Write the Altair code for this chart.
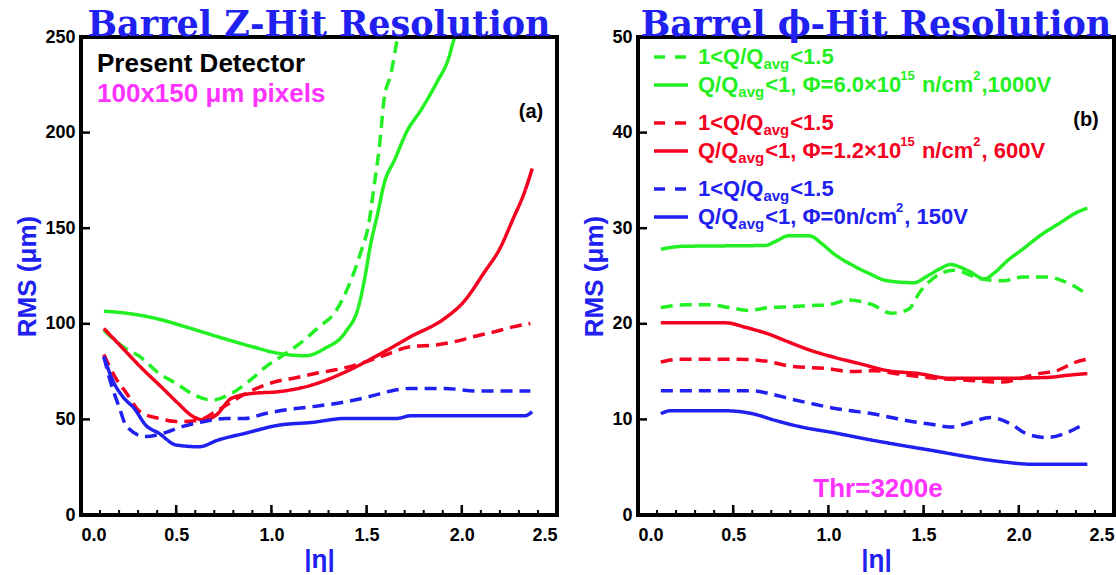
import altair as alt
import pandas as pd

# ---------------- data ----------------
x_tick_values = [0.0, 0.5, 1.0, 1.5, 2.0, 2.5]
x_minor_values = [0.0, 0.1, 0.2, 0.3, 0.4, 0.5, 0.6, 0.7, 0.8, 0.9, 1.0, 1.1, 1.2,
                  1.3, 1.4, 1.5, 1.6, 1.7, 1.8, 1.9, 2.0, 2.1, 2.2, 2.3, 2.4, 2.5]
z_y_ticks = [0, 50, 100, 150, 200, 250]
phi_y_ticks = [0, 10, 20, 30, 40, 50]

# Barrel Z-hit resolution (left panel)
z_green_solid_eta = [0.12, 0.25, 0.41, 0.55, 0.72, 0.90, 1.04, 1.18, 1.28, 1.39, 1.46, 1.49,
                     1.52, 1.56, 1.59, 1.65, 1.71, 1.79, 1.87, 1.93, 1.96, 2.00]
z_green_solid_rms = [106.6, 105.4, 102.4, 98.4, 93.2, 88.0, 84.5, 83.3, 87.1, 95.8, 109.8, 123.7,
                     141.0, 158.5, 172.5, 186.4, 200.3, 212.5, 226.5, 238.7, 249.1, 258.0]
z_green_dash_eta = [0.12, 0.22, 0.31, 0.41, 0.50, 0.58, 0.69, 0.79, 0.90, 0.97, 1.05, 1.15,
                    1.25, 1.33, 1.40, 1.47, 1.51, 1.54, 1.57, 1.59, 1.63, 1.66, 1.68]
z_green_dash_rms = [96.7, 88.0, 82.8, 74.0, 68.8, 63.6, 60.1, 63.6, 71.4, 77.5, 82.8, 89.7,
                    98.4, 105.4, 118.5, 137.6, 151.6, 172.5, 195.1, 216.0, 231.7, 248.3, 258.0]
z_red_solid_eta = [0.12, 0.22, 0.32, 0.43, 0.51, 0.59, 0.65, 0.71, 0.79, 0.90, 1.04, 1.21,
                   1.39, 1.56, 1.73, 1.91, 2.01, 2.12, 2.20, 2.27, 2.33, 2.37]
z_red_solid_rms = [97.6, 87.1, 76.7, 66.2, 58.4, 51.4, 49.7, 52.3, 61.0, 63.6, 64.5, 67.9,
                   74.9, 83.6, 93.2, 102.8, 111.5, 127.2, 139.4, 155.0, 169.0, 181.2]
z_red_dash_eta = [0.12, 0.18, 0.24, 0.31, 0.41, 0.52, 0.62, 0.72, 0.90, 1.02, 1.11, 1.23,
                  1.33, 1.44, 1.58, 1.73, 1.86, 1.96, 2.06, 2.17, 2.27, 2.36]
z_red_dash_rms = [84.0, 72.0, 63.6, 54.0, 50.5, 48.8, 49.7, 54.9, 65.3, 69.7, 71.4, 74.0,
                  75.8, 78.4, 83.0, 88.0, 88.9, 90.6, 93.2, 95.8, 98.4, 100.2]
z_blue_solid_eta = [0.12, 0.17, 0.22, 0.28, 0.34, 0.41, 0.50, 0.62, 0.72, 0.86, 1.04, 1.21,
                    1.39, 1.66, 1.73, 2.33, 2.37]
z_blue_solid_rms = [82.8, 69.7, 61.8, 55.7, 47.0, 42.7, 36.6, 35.7, 39.2, 42.7, 47.0, 48.4,
                    50.5, 50.5, 51.9, 51.9, 54.0]
z_blue_dash_eta = [0.12, 0.16, 0.20, 0.24, 0.34, 0.43, 0.53, 0.64, 0.76, 0.86, 0.97, 1.07,
                   1.21, 1.39, 1.51, 1.61, 1.73, 1.91, 2.08, 2.36]
z_blue_dash_rms = [82.8, 68.0, 56.6, 46.2, 41.0, 42.7, 46.2, 48.8, 50.5, 50.5, 53.1, 54.9,
                   56.6, 59.2, 61.8, 64.5, 66.2, 66.2, 64.8, 64.8]

# Barrel phi-hit resolution (right panel)
phi_green_solid_eta = [0.12, 0.23, 0.67, 0.72, 0.79, 0.90, 0.97, 1.03, 1.12, 1.21, 1.31, 1.45,
                       1.52, 1.59, 1.64, 1.73, 1.82, 1.87, 1.94, 2.02, 2.11, 2.22, 2.30, 2.36]
phi_green_solid_rms = [27.8, 28.1, 28.2, 28.6, 29.2, 29.2, 28.3, 27.3, 26.2, 25.3, 24.5, 24.3,
                       25.0, 25.8, 26.2, 25.6, 24.7, 25.3, 26.6, 27.8, 29.2, 30.6, 31.6, 32.1]
phi_green_dash_eta = [0.12, 0.25, 0.37, 0.48, 0.58, 0.69, 0.82, 0.90, 1.00, 1.11, 1.23, 1.33,
                      1.42, 1.48, 1.50, 1.66, 1.80, 1.92, 2.02, 2.15, 2.23, 2.32, 2.36]
phi_green_dash_rms = [21.7, 22.0, 22.0, 21.7, 21.4, 21.7, 21.8, 21.9, 22.0, 22.5, 22.0, 21.1,
                      21.5, 23.3, 23.8, 25.6, 24.7, 24.5, 24.9, 24.9, 24.5, 23.6, 23.1]
phi_red_solid_eta = [0.12, 0.46, 0.57, 0.69, 0.79, 0.91, 1.03, 1.17, 1.31, 1.47, 1.64, 1.90,
                     2.16, 2.25, 2.36]
phi_red_solid_rms = [20.1, 20.1, 19.6, 18.9, 18.1, 17.2, 16.5, 15.8, 15.1, 14.8, 14.3, 14.3,
                     14.4, 14.6, 14.8]
phi_red_dash_eta = [0.12, 0.22, 0.51, 0.67, 0.79, 1.00, 1.12, 1.24, 1.35, 1.56, 1.73, 1.90,
                    2.11, 2.20, 2.30, 2.36]
phi_red_dash_rms = [16.0, 16.3, 16.3, 16.1, 15.6, 15.3, 15.0, 15.1, 14.8, 14.3, 14.1, 13.9,
                    14.8, 15.1, 16.0, 16.3]
phi_blue_solid_eta = [0.12, 0.17, 0.46, 0.60, 0.72, 0.86, 1.03, 1.21, 1.38, 1.56, 1.73, 1.90,
                      2.08, 2.36]
phi_blue_solid_rms = [10.6, 10.9, 10.9, 10.6, 9.9, 9.2, 8.6, 7.9, 7.3, 6.7, 6.1, 5.6, 5.3, 5.3]
phi_blue_dash_eta = [0.12, 0.60, 0.69, 0.79, 0.90, 1.02, 1.12, 1.23, 1.33, 1.43, 1.54, 1.64,
                     1.75, 1.85, 1.96, 2.04, 2.15, 2.25, 2.35]
phi_blue_dash_rms = [13.0, 13.0, 12.7, 12.2, 11.7, 11.2, 10.9, 10.6, 10.2, 9.8, 9.5, 9.2,
                     9.7, 10.2, 9.5, 8.5, 8.1, 8.6, 9.6]

# ---------------- styles ----------------
GREEN = "#22f022"
RED = "#f5001e"
BLUE = "#2020f0"
MAGENTA = "#ff33ff"
W, H = 476, 478
FONT = "Liberation Sans"


def series_df(pairs):
    rows = []
    for key, (etas, rmss, clr, sty) in pairs.items():
        for e, r in zip(etas, rmss):
            rows.append({"eta": e, "rms": r, "clr": clr, "sty": sty, "key": key})
    return pd.DataFrame(rows)


z_df = series_df({
    "gs": (z_green_solid_eta, z_green_solid_rms, "green", "solid"),
    "gd": (z_green_dash_eta, z_green_dash_rms, "green", "dashed"),
    "rs": (z_red_solid_eta, z_red_solid_rms, "red", "solid"),
    "rd": (z_red_dash_eta, z_red_dash_rms, "red", "dashed"),
    "bs": (z_blue_solid_eta, z_blue_solid_rms, "blue", "solid"),
    "bd": (z_blue_dash_eta, z_blue_dash_rms, "blue", "dashed"),
})
phi_df = series_df({
    "gs": (phi_green_solid_eta, phi_green_solid_rms, "green", "solid"),
    "gd": (phi_green_dash_eta, phi_green_dash_rms, "green", "dashed"),
    "rs": (phi_red_solid_eta, phi_red_solid_rms, "red", "solid"),
    "rd": (phi_red_dash_eta, phi_red_dash_rms, "red", "dashed"),
    "bs": (phi_blue_solid_eta, phi_blue_solid_rms, "blue", "solid"),
    "bd": (phi_blue_dash_eta, phi_blue_dash_rms, "blue", "dashed"),
})

color_scale = alt.Scale(domain=["green", "red", "blue"], range=[GREEN, RED, BLUE])
dash_scale = alt.Scale(domain=["dashed", "solid"], range=[[12, 7], [1, 0]])

x_axis = alt.Axis(values=x_tick_values, format=".1f", title="|η|", ticks=False,
                  domain=False, grid=False, labelPadding=11, titlePadding=2)


def y_axis(vals):
    return alt.Axis(values=vals, format="d", title="RMS (μm)", ticks=False, domain=False,
                    grid=False, labelPadding=6, titlePadding=4)


def text_layer(txt, x, y, size, color, align="left", font=FONT, baseline="middle"):
    return alt.Chart(pd.DataFrame({"t": [txt]})).mark_text(
        align=align, baseline=baseline, font=font, fontWeight="bold",
        fontSize=size, color=color
    ).encode(text="t:N", x=alt.value(x), y=alt.value(y))


def panel(df, ymax, yvals, title):
    xs = alt.Scale(domain=[0, 2.5], nice=False, zero=False)
    ys = alt.Scale(domain=[0, ymax], nice=False)
    X = alt.X("eta:Q", scale=xs, axis=x_axis)
    Y = alt.Y("rms:Q", scale=ys, axis=y_axis(yvals))
    lines = alt.Chart(df).mark_line(strokeWidth=3.5, clip=True, interpolate="monotone").encode(
        x=X, y=Y,
        color=alt.Color("clr:N", scale=color_scale, legend=None),
        strokeDash=alt.StrokeDash("sty:N", scale=dash_scale, legend=None),
        detail="key:N",
    )
    minor = alt.Chart(pd.DataFrame({"eta": x_minor_values})).mark_rule(
        color="black", strokeWidth=2).encode(x=X, y=alt.value(H), y2=alt.value(H - 5))
    major = alt.Chart(pd.DataFrame({"eta": x_tick_values})).mark_rule(
        color="black", strokeWidth=2.5).encode(x=X, y=alt.value(H), y2=alt.value(H - 10))
    yt = alt.Chart(pd.DataFrame({"rms": yvals})).mark_rule(
        color="black", strokeWidth=2.5).encode(y=Y, x=alt.value(0), x2=alt.value(9))
    frame = alt.Chart(pd.DataFrame({"t": [0]})).mark_rect(
        filled=False, stroke="black", strokeWidth=4
    ).encode(x=alt.value(0), x2=alt.value(W), y=alt.value(0), y2=alt.value(H))
    ttl = text_layer(title, W / 2, -1, 35, BLUE, align="center", font="DejaVu Serif",
                     baseline="alphabetic")
    return [lines, minor, major, yt, frame, ttl]


# ---- legend (right panel), built from text pieces with sub/superscripts ----
METRIC = {' ': 278, ',': 278, '.': 278, '/': 278, '<': 584, '=': 584, '×': 584, 'Q': 778,
          'V': 667, 'Φ': 778, 'a': 556, 'c': 556, 'g': 611, 'm': 889, 'n': 611, 'v': 556}


def twidth(s, size):
    return sum(METRIC.get(ch, 556) for ch in s) * size / 1000.0


LEG_SIZE = 22
SUB_SIZE = 15
legend_rows = [
    (GREEN, "dashed", [("1<Q/Q", "n"), ("avg", "sub"), ("<1.5", "n")]),
    (GREEN, "solid", [("Q/Q", "n"), ("avg", "sub"), ("<1, Φ=6.0×10", "n"), ("15", "sup"),
                      (" n/cm", "n"), ("2", "sup"), (",1000V", "n")]),
    (RED, "dashed", [("1<Q/Q", "n"), ("avg", "sub"), ("<1.5", "n")]),
    (RED, "solid", [("Q/Q", "n"), ("avg", "sub"), ("<1, Φ=1.2×10", "n"), ("15", "sup"),
                    (" n/cm", "n"), ("2", "sup"), (", 600V", "n")]),
    (BLUE, "dashed", [("1<Q/Q", "n"), ("avg", "sub"), ("<1.5", "n")]),
    (BLUE, "solid", [("Q/Q", "n"), ("avg", "sub"), ("<1, Φ=0n/cm", "n"), ("2", "sup"),
                     (", 150V", "n")]),
]
legend_y = [20, 48, 86, 114, 152, 180]

legend_layers = []
for (clr, sty, pieces), ly in zip(legend_rows, legend_y):
    legend_layers.append(
        alt.Chart(pd.DataFrame({"t": [0]})).mark_rule(
            color=clr, strokeWidth=3.5, strokeDash=[11, 10] if sty == "dashed" else [1, 0]
        ).encode(x=alt.value(16), x2=alt.value(50), y=alt.value(ly))
    )
    cx = 60
    for txt, kind in pieces:
        if kind == "n":
            size, dy = LEG_SIZE, 0
        elif kind == "sub":
            size, dy = SUB_SIZE, 7
        else:
            size, dy = SUB_SIZE - 2, -9
        lead = len(txt) - len(txt.lstrip(" "))
        cx += lead * 278 * size / 1000.0
        core = txt.strip(" ")
        legend_layers.append(text_layer(core, cx, ly + dy, size, clr))
        cx += twidth(core, size) + (1 if kind != "n" else 0)

left = alt.layer(
    *panel(z_df, 250, z_y_ticks, "Barrel Z-Hit Resolution"),
    text_layer("Present Detector", 16, 27, 26, "black"),
    text_layer("100x150 μm pixels", 16, 57, 26, MAGENTA),
    text_layer("(a)", 450, 75, 20, "black", align="center"),
).properties(width=W, height=H)

right = alt.layer(
    *panel(phi_df, 50, phi_y_ticks, "Barrel ϕ-Hit Resolution"),
    *legend_layers,
    text_layer("(b)", 448, 83, 20, "black", align="center"),
    text_layer("Thr=3200e", 240, 452, 26, MAGENTA, align="center"),
).properties(width=W, height=H)

chart = alt.hconcat(left, right, spacing=22).properties(
    padding={"left": 14, "right": 0, "top": 8, "bottom": 0},
    background="white",
).configure_view(strokeWidth=0).configure_axis(
    labelFont=FONT, labelFontWeight="bold", labelFontSize=18, labelColor="black",
    titleFont=FONT, titleFontWeight="bold", titleFontSize=26, titleColor=BLUE,
)

chart.save("out.html", embed_options={"renderer": "svg", "actions": False})
